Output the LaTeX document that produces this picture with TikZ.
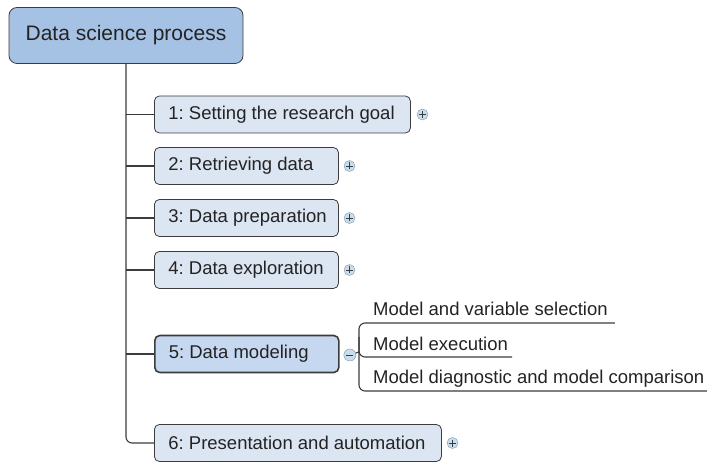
\documentclass[tikz,border=0pt]{standalone}
\usepackage{fontspec}
\setmainfont{Liberation Sans}
\usetikzlibrary{positioning}

\definecolor{rootblue}{RGB}{165,194,228}
\definecolor{stageblue}{RGB}{220,230,243}
\definecolor{activeblue}{RGB}{197,216,239}
\definecolor{togglefill}{RGB}{202,221,236}
\definecolor{toggleline}{RGB}{120,150,178}
\definecolor{linegray}{RGB}{60,60,60}
\definecolor{textgray}{RGB}{35,35,35}

\newcommand{\stagelabel}[2]{\makebox[#1][l]{#2}}

\begin{document}
\begin{tikzpicture}[x=1pt, y=-1pt,
    root/.style ={draw=linegray, thick, rounded corners=8pt, fill=rootblue,
        minimum width=234pt, minimum height=56pt, text=textgray,
        font=\fontsize{21}{25}\selectfont\frenchspacing},
    stage/.style ={draw=linegray, thick, rounded corners=5pt, fill=stageblue,
        anchor=west, inner xsep=14pt, minimum height=37pt,
        text=textgray, font=\fontsize{18.5}{22}\selectfont\frenchspacing},
    active/.style ={stage, fill=activeblue, line width=1.6pt},
    subitem/.style ={anchor=base west, inner sep=0pt, text=textgray,
        font=\fontsize{18.5}{22}\selectfont\frenchspacing},
    branch/.style ={draw=linegray, line width=1.1pt},
    toggle/.style ={circle, draw=toggleline, fill=togglefill, inner sep=0pt},
    plus/.style ={toggle, minimum size=11pt, path picture={
        \draw[linegray, line width=0.6pt]
          ([xshift=2pt]path picture bounding box.west) -- ([xshift=-2pt]path picture bounding box.east)
          ([yshift=2pt]path picture bounding box.south) -- ([yshift=-2pt]path picture bounding box.north);}},
    minus/.style ={toggle, minimum size=12pt, path picture={
        \draw[linegray, line width=0.6pt]
          ([xshift=2.5pt]path picture bounding box.west) -- ([xshift=-2.5pt]path picture bounding box.east);}}]
   \useasboundingbox (0,0) rectangle (707,462);

   \node[root] (R) at (126,35.5) {Data science process};

   \node[stage] (A) at (154,114.5) {\stagelabel{228pt}{1: Setting the research goal}};
   \node[stage] (B) at (154,166)   {\stagelabel{156pt}{2: Retrieving data}};
   \node[stage] (C) at (154,218)   {\stagelabel{156pt}{3: Data preparation}};
   \node[stage] (D) at (154,270)   {\stagelabel{156pt}{4: Data exploration}};
   \node[active] (E) at (154,354)  {\stagelabel{156pt}{5: Data modeling}};
   \node[stage] (F) at (154,443)   {\stagelabel{259pt}{6: Presentation and automation}};

   \node[plus, right=6pt of A] (pA) {};
   \node[plus, right=5pt of B] (pB) {};
   \node[plus, right=5pt of C] (pC) {};
   \node[plus, right=5pt of D] (pD) {};
   \node[minus, right=4pt of E, yshift=-1pt] (mE) {};
   \node[plus, right=5pt of F] (pF) {};

   \node[subitem] (P) at (373,316) {Model and variable selection};
   \node[subitem] (Q) at (373,351) {Model execution};
   \node[subitem] (S) at (373,384) {Model diagnostic and model comparison};

   % tree
   \draw[branch, rounded corners=6pt] (R.south) -- (R.south |- F.west) -- (F.west);
   \foreach \n in {A,B,C,D,E}
     \draw[branch] (R.south |- \n.west) to (\n.west);

   % model steps
   \coordinate (K) at ([xshift=-14pt]Q.base west);
   \draw[branch, rounded corners=6pt] ([shift={(7pt,-7pt)}]P.base east)
       -- ([shift={(-14pt,-7pt)}]P.base west) -- ([shift={(-14pt,-7pt)}]S.base west)
       -- ([shift={(4pt,-7pt)}]S.base east);
   \draw[branch, rounded corners=6pt] ([yshift=14pt]K) -- ([yshift=-6pt]K)
       -- ([shift={(4pt,-6pt)}]Q.base east);
   \draw[branch] (mE) to ([yshift=-1pt]K);
 \end{tikzpicture}
\end{document}
